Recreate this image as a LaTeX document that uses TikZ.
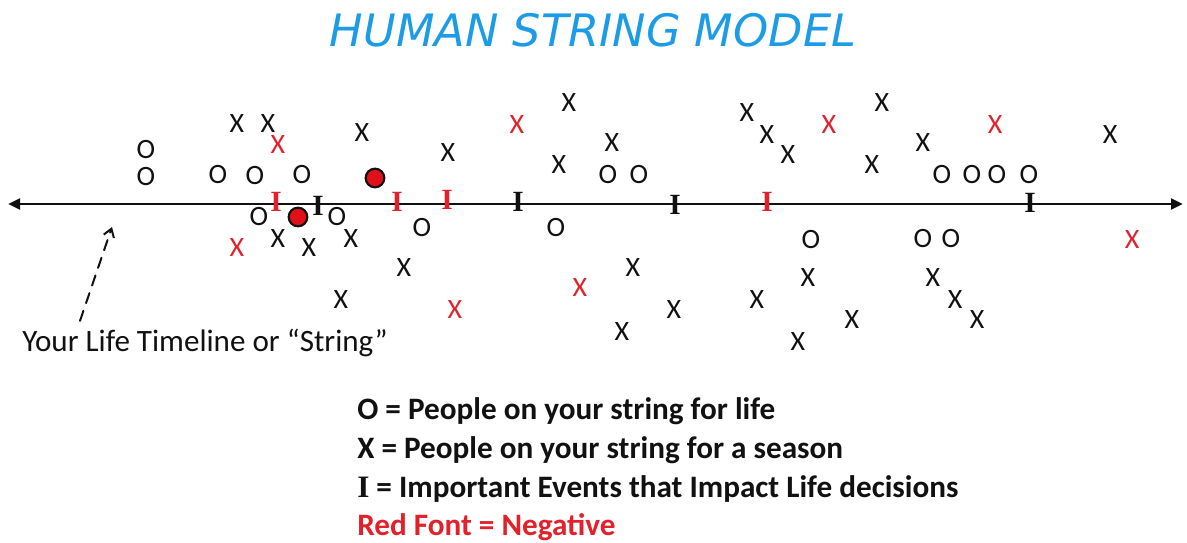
\documentclass[tikz,border=0pt]{standalone}
\usepackage{fontspec}
\setmainfont{Carlito}
\newfontfamily\titlefont{DejaVu Sans}
\newfontfamily\eventfont{Liberation Serif}
\usetikzlibrary{arrows.meta,positioning,calc}
\definecolor{ink}{HTML}{111111}
\definecolor{negcol}{HTML}{E3212B}
\definecolor{titlecol}{HTML}{1C9BE6}
\definecolor{dotcol}{HTML}{E0101A}

\begin{document}
\begin{tikzpicture}[x=0.75pt, y=-0.75pt,
  line cap=round, line join=round,
  person/.style={inner sep=0pt, font=\fontsize{21}{21}\selectfont, text=ink},
  negperson/.style={person, text=negcol},
  event/.style={inner sep=0pt, font=\eventfont\bfseries\fontsize{22}{22}\selectfont, text=ink},
  negevent/.style={event, text=negcol},
  dot/.style={circle, draw=ink, fill=dotcol, line width=1.6pt,
              minimum size=14pt, inner sep=0pt},
  keyline/.style={anchor=west, inner sep=0pt,
                  font=\bfseries\fontsize{23.4}{23.4}\selectfont, text=ink}]
\useasboundingbox (0,0) rectangle (1187,542);

% ================================================ title
\node[font=\titlefont\itshape\fontsize{33.5}{33.5}\selectfont, text=titlecol]
  (title) at (593,30) {HUMAN STRING MODEL};

% ================================================ the string
\coordinate (birth) at (8,204);
\coordinate (now) at (1183,204);
\draw[ink, line width=2.2pt, {Triangle[length=9pt,width=8pt]}-{Triangle[length=9pt,width=8pt]}]
  (birth) -- (now);

% people for life
\foreach \px/\py [count=\i] in {146/150, 146/177, 218/175, 255/176, 302/175,
    608/175, 639/175, 942/175, 972/175, 997/175, 1029/175,
    259/217, 337/217, 422/228, 556/228, 811/240, 923/239, 951/239}
  \node[person] (o\i) at (\px,\py) {O};

% people for a season
\foreach \px/\py [count=\i] in {237/124, 268/124, 362/133, 448/153, 569/103,
    559/165, 612/143, 747/113, 767/135, 788/155, 882/103, 872/165, 923/143,
    1110/135, 278/239, 309/248, 351/239, 404/268, 341/300, 633/268, 622/332,
    674/310, 757/300, 808/278, 798/342, 852/320, 933/278, 955/300, 977/320}
  \node[person] (x\i) at (\px,\py) {X};
\foreach \px/\py [count=\i] in {278/145, 517/125, 829/125, 995/125,
    237/248, 455/310, 580/288, 1132/240}
  \node[negperson] (nx\i) at (\px,\py) {X};

% events
\foreach \px/\py [count=\i] in {318/206, 518/202, 675/205, 1030/203}
  \node[event] (ev\i) at (\px,\py) {I};
\foreach \px/\py [count=\i] in {276/202, 397/202, 447/200, 767/202}
  \node[negevent] (nev\i) at (\px,\py) {I};

\node[dot] (dot1) at (375,178) {};
\node[dot] (dot2) at (298,217) {};

% ================================================ label of the string
\node[anchor=west, inner sep=0pt, font=\fontsize{23.3}{23.3}\selectfont, text=ink]
  (strlbl) at (22,343) {Your Life Timeline or “String”};
\coordinate (ptr) at (112,227);
\draw[ink, line width=1.5pt, dash pattern=on 8pt off 6pt, -{Straight Barb[length=6pt,width=8pt]}]
  ($(strlbl.north west)+(58,-8)$) -- (ptr);

% ================================================ key
\node[keyline] (k1) at (357,411) {O = People on your string for life};
\node[keyline] (k2) at (357,450) {X = People on your string for a season};
\node[keyline] (k3) at (357,489) {{\eventfont I} = Important Events that Impact Life decisions};
\node[keyline, text=negcol] (k4) at (357,527) {Red Font = Negative};

\end{tikzpicture}
\end{document}
